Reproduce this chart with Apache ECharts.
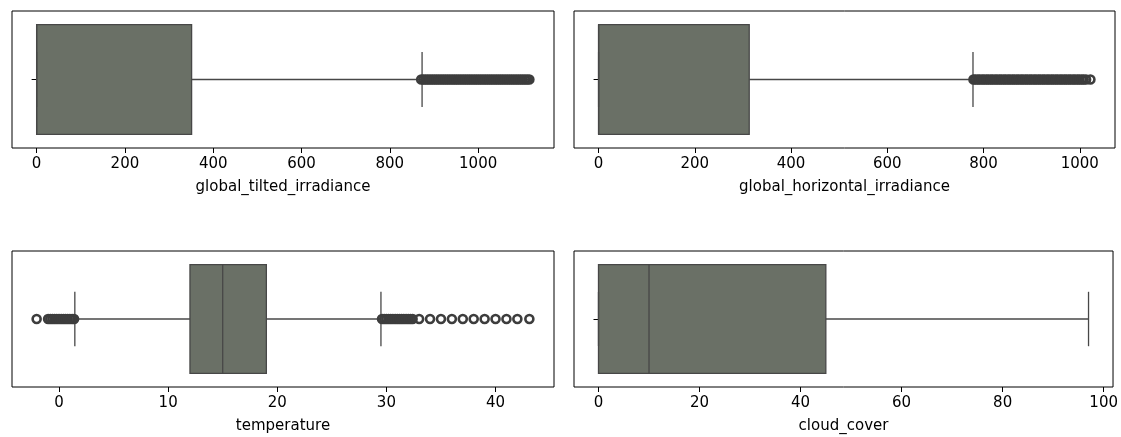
<!DOCTYPE html>
<html><head><meta charset="utf-8">
<script src="https://cdn.jsdelivr.net/npm/echarts@6/dist/echarts.min.js"></script>
<style>html,body{margin:0;padding:0;background:#fff}#c{width:1121px;height:437px}</style>
</head><body><div id="c"></div>
<script>
// ---- data ----
const names = ['global_tilted_irradiance', 'global_horizontal_irradiance', 'temperature', 'cloud_cover'];
// [lower whisker, Q1, median, Q3, upper whisker]
const gtiBox = [0, 0, 0, 351, 873];
const ghiBox = [0, 0, 0, 313, 778];
const tempBox = [1.45, 12, 15, 19, 29.5];
const cloudBox = [0, 0, 10, 45, 97];
// outliers
const gtiOut = [871, 876, 881, 886, 891, 896, 901, 906, 911, 916, 921, 926, 931, 936, 941, 946, 951, 956, 961, 966,
  971, 976, 981, 986, 991, 996, 1001, 1006, 1011, 1016, 1021, 1026, 1031, 1036, 1041, 1046, 1051, 1056, 1061, 1066,
  1071, 1076, 1081, 1086, 1091, 1096, 1101, 1106, 1111, 1116];
const ghiOut = [779, 783, 788, 792, 797, 801, 806, 810, 815, 819, 824, 828, 833, 837, 842, 846, 851, 855, 860, 864,
  869, 873, 878, 882, 887, 891, 896, 900, 905, 909, 914, 918, 923, 927, 932, 936, 941, 945, 950, 954,
  959, 963, 968, 972, 977, 981, 986, 990, 995, 999, 1004, 1008, 1013, 1022];
const tempOut = [-2.05, -1.0, -0.8, -0.6, -0.4, -0.2, 0, 0.2, 0.4, 0.6, 0.8, 1.0, 1.2, 1.38,
  29.6, 29.8, 30.0, 30.2, 30.4, 30.6, 30.8, 31.0, 31.2, 31.4, 31.6, 31.8, 32.0, 32.2, 32.4,
  33, 34, 35, 36, 37, 38, 39, 40, 41, 42, 43.1];
const cloudOut = [];
// tick labels
const gtiTicks = [0, 200, 400, 600, 800, 1000];
const ghiTicks = [0, 200, 400, 600, 800, 1000];
const tempTicks = [0, 10, 20, 30, 40];
const cloudTicks = [0, 20, 40, 60, 80, 100];

// ---- layout ----
const panels = [
  {name: names[0], box: gtiBox, out: gtiOut, ticks: gtiTicks},
  {name: names[1], box: ghiBox, out: ghiOut, ticks: ghiTicks},
  {name: names[2], box: tempBox, out: tempOut, ticks: tempTicks},
  {name: names[3], box: cloudBox, out: cloudOut, ticks: cloudTicks}
];
const gridPos = [
  {left: 12, top: 11, width: 542, height: 137},
  {left: 574, top: 11, width: 541, height: 137},
  {left: 12, top: 251, width: 542, height: 136},
  {left: 574, top: 251, width: 541, height: 136}
];
const FONT = 'DejaVu Sans';
const FS = 15;
const LINE = '#474747';

function extent(p) {
  const all = p.box.concat(p.out);
  const lo = Math.min(...all), hi = Math.max(...all);
  const pad = 0.05 * (hi - lo);
  return [lo - pad, hi + pad];
}

function renderBox(params, api) {
  const v = [0, 1, 2, 3, 4].map(i => api.value(i));
  const yc = api.coord([v[1], 0])[1];
  const band = api.size([0, 1])[1];
  const px = val => api.coord([val, 0])[0];
  const ls = {stroke: LINE, lineWidth: 1.3};
  const bh = band * 0.8, ch = band * 0.4;
  return {type: 'group', children: [
    {type: 'line', shape: {x1: px(v[0]), y1: yc, x2: px(v[1]), y2: yc}, style: ls},
    {type: 'line', shape: {x1: px(v[3]), y1: yc, x2: px(v[4]), y2: yc}, style: ls},
    {type: 'rect', shape: {x: px(v[1]), y: yc - bh / 2, width: px(v[3]) - px(v[1]), height: bh},
      style: {fill: '#6a7066', stroke: LINE, lineWidth: 1.3}},
    {type: 'line', shape: {x1: px(v[2]), y1: yc - bh / 2, x2: px(v[2]), y2: yc + bh / 2}, style: ls},
    {type: 'line', shape: {x1: px(v[0]), y1: yc - ch / 2, x2: px(v[0]), y2: yc + ch / 2}, style: ls},
    {type: 'line', shape: {x1: px(v[4]), y1: yc - ch / 2, x2: px(v[4]), y2: yc + ch / 2}, style: ls}
  ]};
}

const grid = [], xAxis = [], yAxis = [], series = [];
panels.forEach((p, i) => {
  grid.push(Object.assign({show: true, borderColor: '#000', borderWidth: 1, backgroundColor: 'transparent'}, gridPos[i]));
  const [mn, mx] = extent(p);
  xAxis.push({
    type: 'value', gridIndex: i, min: mn, max: mx,
    name: p.name, nameLocation: 'middle', nameGap: 32,
    nameTextStyle: {fontFamily: FONT, fontSize: FS, color: '#000'},
    axisLine: {show: false},
    splitLine: {show: false},
    axisTick: {show: true, length: 5, lineStyle: {color: '#000', width: 1}, customValues: p.ticks},
    axisLabel: {show: true, margin: 9, fontFamily: FONT, fontSize: FS, color: '#000',
      customValues: p.ticks, formatter: v => String(v)}
  });
  yAxis.push({
    type: 'category', gridIndex: i, data: ['v'], boundaryGap: true,
    axisLine: {show: false},
    axisLabel: {show: false},
    axisTick: {show: true, alignWithLabel: true, length: 5, lineStyle: {color: '#000', width: 1}},
    splitLine: {show: false}
  });
  series.push({
    type: 'custom', xAxisIndex: i, yAxisIndex: i, renderItem: renderBox, silent: true,
    encode: {x: [0, 1, 2, 3, 4], y: 5},
    data: [p.box.concat([0])]
  });
  if (p.out.length) {
    series.push({
      type: 'scatter', xAxisIndex: i, yAxisIndex: i, silent: true,
      symbol: 'circle', symbolSize: 8,
      itemStyle: {color: 'rgba(0,0,0,0)', borderColor: '#3d3d3d', borderWidth: 2.6, opacity: 1},
      emphasis: {disabled: true},
      data: p.out.map(v => [v, 0])
    });
  }
});

const chart = echarts.init(document.getElementById('c'), null, {renderer: 'canvas'});
chart.setOption({animation: false, backgroundColor: '#fff', grid, xAxis, yAxis, series});
</script>
</body></html>
